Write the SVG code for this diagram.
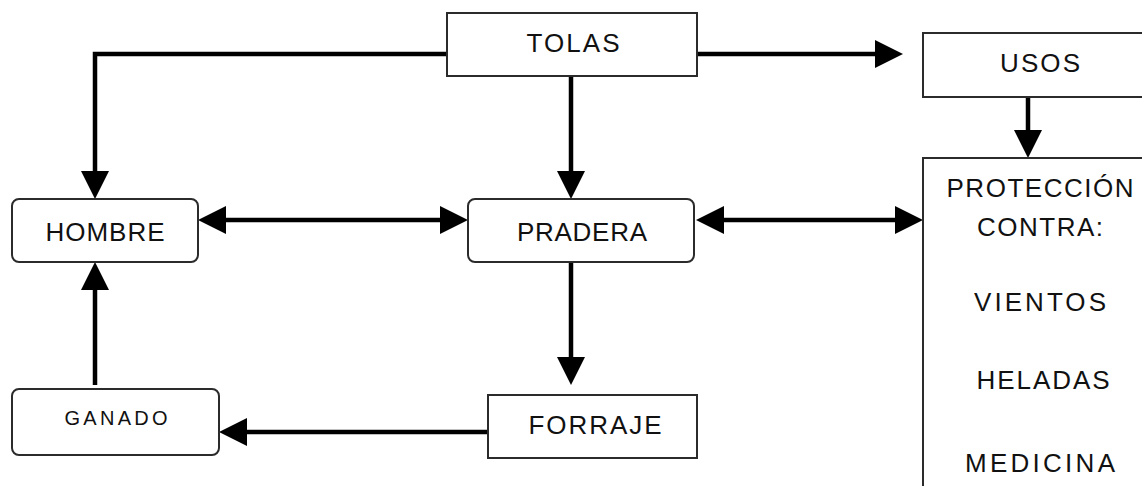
<svg xmlns="http://www.w3.org/2000/svg" width="1142" height="486" viewBox="0 0 1142 486">
<style>
.box{fill:#fff;stroke:#2b2b2b;stroke-width:2}
.lbl{font-family:"Liberation Sans",Arial,sans-serif;font-size:26px;fill:#111;text-anchor:middle}
.sm{font-size:20px}
.con{fill:none;stroke:#000;stroke-width:4.5}
</style>
<defs>
<marker id="ah" viewBox="0 0 28 28" refX="22" refY="14" markerWidth="28" markerHeight="28" markerUnits="userSpaceOnUse" orient="auto-start-reverse">
<path d="M0,0 L28,14 L0,28 z" fill="#000"/>
</marker>
</defs>
<rect width="1142" height="486" fill="#fff"/>
<g id="connectors">
<path class="con" d="M446,54 H95 V193" marker-end="url(#ah)"/>
<path class="con" d="M571,76 V193" marker-end="url(#ah)"/>
<path class="con" d="M698,54 H897" marker-end="url(#ah)"/>
<path class="con" d="M1028,97 V152" marker-end="url(#ah)"/>
<path class="con" d="M204,220 H462" marker-start="url(#ah)" marker-end="url(#ah)"/>
<path class="con" d="M702,220 H917" marker-start="url(#ah)" marker-end="url(#ah)"/>
<path class="con" d="M571,262 V379" marker-end="url(#ah)"/>
<path class="con" d="M488,432 H225" marker-end="url(#ah)"/>
<path class="con" d="M95,385 V268" marker-end="url(#ah)"/>
</g>
<g id="tolas">
<rect class="box" x="447" y="13" width="250" height="63"/>
<text class="lbl" x="573" y="52" textLength="93" lengthAdjust="spacing">TOLAS</text>
</g>
<g id="usos">
<rect class="box" x="923" y="33" width="240" height="64"/>
<text class="lbl" x="1040" y="72" textLength="80" lengthAdjust="spacing">USOS</text>
</g>
<g id="hombre">
<rect class="box" x="12" y="199" width="186" height="63" rx="7"/>
<text class="lbl" x="105" y="241" textLength="119" lengthAdjust="spacing">HOMBRE</text>
</g>
<g id="pradera">
<rect class="box" x="468" y="199" width="226" height="63" rx="7"/>
<text class="lbl" x="582" y="241" textLength="130" lengthAdjust="spacing">PRADERA</text>
</g>
<g id="proteccion">
<rect class="box" x="923" y="158" width="240" height="340"/>
<text class="lbl" x="1040" y="197" textLength="187" lengthAdjust="spacing">PROTECCIÓN</text>
<text class="lbl" x="1040" y="236" textLength="126" lengthAdjust="spacing">CONTRA:</text>
<text class="lbl" x="1040" y="311" textLength="132" lengthAdjust="spacing">VIENTOS</text>
<text class="lbl" x="1043" y="389" textLength="133" lengthAdjust="spacing">HELADAS</text>
<text class="lbl" x="1040" y="472" textLength="150" lengthAdjust="spacing">MEDICINA</text>
</g>
<g id="ganado">
<rect class="box" x="12" y="389" width="207" height="66" rx="7"/>
<text class="lbl sm" x="116" y="425" textLength="103" lengthAdjust="spacing">GANADO</text>
</g>
<g id="forraje">
<rect class="box" x="488" y="395" width="209" height="63"/>
<text class="lbl" x="595" y="434" textLength="133" lengthAdjust="spacing">FORRAJE</text>
</g>
</svg>
